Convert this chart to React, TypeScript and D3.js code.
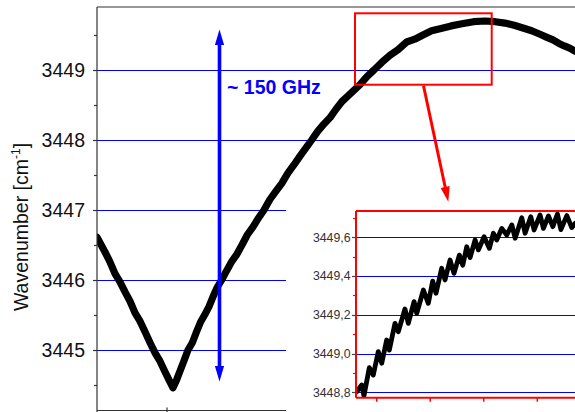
import React from 'react';
import * as d3 from 'd3';

// ---------- data ----------
const mainYTicks = [3445, 3446, 3447, 3448, 3449];
const mainYMinor = [3444.5, 3445.5, 3446.5, 3447.5, 3448.5, 3449.5];
const mainXTicks = [20, 40, 60];

const mainT = [10, 10.6, 11.14, 11.8, 12.57, 13.3, 14, 14.7, 15.43, 16.1, 16.86, 17.6, 18.29, 19.0, 19.71, 20.3, 20.86, 21.4, 21.86, 22.4, 23.0, 23.6, 24.14, 24.8, 25.43, 26.0, 26.57, 27.2, 27.81, 28.5, 29.29, 30.0, 30.71, 31.5, 32.29, 33.1, 33.86, 34.7, 35.57, 36.4, 37.29, 38.1, 39, 39.8, 40.67, 41.5, 42.43, 43.3, 44.14, 45.0, 45.86, 46.7, 47.57, 48.6, 49.57, 50.7, 51.86, 53.0, 54.24, 55.4, 56.57, 57.8, 59, 60.6, 62.14, 63.8, 65.43, 66.9, 68.29, 69.6, 70.86, 72.1, 73.29, 74.2, 75.14, 76.0, 76.86, 77.6, 78.29];
const mainV = [3446.61, 3446.5, 3446.4, 3446.27, 3446.09, 3445.97, 3445.83, 3445.7, 3445.53, 3445.42, 3445.26, 3445.1, 3444.96, 3444.84, 3444.69, 3444.57, 3444.46, 3444.58, 3444.7, 3444.84, 3445.0, 3445.1, 3445.24, 3445.4, 3445.51, 3445.62, 3445.76, 3445.9, 3446.0, 3446.13, 3446.27, 3446.37, 3446.5, 3446.65, 3446.76, 3446.89, 3447.0, 3447.15, 3447.27, 3447.38, 3447.53, 3447.64, 3447.77, 3447.88, 3448.0, 3448.12, 3448.23, 3448.32, 3448.44, 3448.55, 3448.63, 3448.71, 3448.79, 3448.91, 3449.0, 3449.11, 3449.21, 3449.29, 3449.4, 3449.44, 3449.5, 3449.56, 3449.59, 3449.63, 3449.66, 3449.69, 3449.7, 3449.69, 3449.67, 3449.64, 3449.6, 3449.56, 3449.51, 3449.47, 3449.43, 3449.38, 3449.34, 3449.31, 3449.27];

const insetT = [48.13, 48.6, 48.81, 49.31, 49.68, 50.15, 50.47, 50.93, 51.18, 51.71, 52.02, 52.64, 52.95, 53.49, 53.74, 54.36, 54.82, 55.23, 55.54, 56.07, 56.38, 56.85, 57.22, 57.72, 58.04, 58.41, 58.72, 59.19, 59.5, 60.03, 60.52, 60.9, 61.21, 61.68, 62.15, 62.62, 62.93, 63.55, 63.86, 64.39, 64.7, 65.26, 65.57, 66.04, 66.45, 66.88, 67.2, 67.76, 68.22, 68.53];
const insetV = [3448.803, 3448.838, 3448.782, 3448.927, 3448.889, 3449.01, 3448.95, 3449.07, 3449.018, 3449.156, 3449.113, 3449.23, 3449.156, 3449.268, 3449.208, 3449.328, 3449.259, 3449.374, 3449.311, 3449.44, 3449.38, 3449.483, 3449.414, 3449.508, 3449.456, 3449.551, 3449.495, 3449.586, 3449.535, 3449.603, 3449.543, 3449.621, 3449.586, 3449.646, 3449.612, 3449.664, 3449.595, 3449.701, 3449.621, 3449.706, 3449.638, 3449.715, 3449.646, 3449.71, 3449.655, 3449.72, 3449.64, 3449.712, 3449.65, 3449.672];
const insetYTicks = [3448.8, 3449.0, 3449.2, 3449.4, 3449.6];
const insetYMinor = [3448.9, 3449.1, 3449.3, 3449.5, 3449.7];
const insetXTicks = [50, 55, 60, 65];

const zoomT = [46.86, 66.39];
const zoomV = [3448.79, 3449.81];
const gapT = 27.5;
const gapV = [3444.55, 3449.58];
const gapLabel = '~ 150 GHz';
const yTitle = 'Wavenumber [cm';

// ---------- layout ----------
const W = 575, H = 412;
const PL = 97, PT = 7, PR = 575, PB = 410.5;
const IL = 356, IT = 211, IB = 397.7, IR = 600;
const FONT = '"Liberation Sans", Arial, Helvetica, sans-serif';

export default function App() {
  const x = d3.scaleLinear().domain([10, 78.29]).range([97, 575]);
  const y = d3.scaleLinear().domain([3444, 3450]).range([420, 0]);
  const xi = d3.scaleLinear().domain([50, 65]).range([376.7, 537.3]);
  const yi = d3.scaleLinear().domain([3448.8, 3449.6]).range([392.3, 237.3]);

  const mainPts = mainT.map((t, i) => [x(t), y(mainV[i])] as [number, number]);
  const insetPts = insetT.map((t, i) => [xi(t), yi(insetV[i])] as [number, number]);
  const line = d3.line();
  const fmtI = (v: number) => d3.format('.1f')(v).replace('.', ',');
  const cy = (v: number) => Math.round(v) + 0.5;

  const ax = x(gapT);
  const aTop = y(gapV[1]);
  const aBot = y(gapV[0]);

  const rx0 = x(zoomT[0]), rx1 = x(zoomT[1]);
  const ry0 = y(zoomV[1]), ry1 = y(zoomV[0]);

  // red arrow
  const raX0 = 423.5, raY0 = ry1 + 1;
  const raX1 = 448.3, raY1 = 201.7;
  const ang = Math.atan2(raY1 - raY0, raX1 - raX0);
  const hl = 15, hw = 4.6;
  const bx = raX1 - hl * Math.cos(ang), by = raY1 - hl * Math.sin(ang);
  const px = -Math.sin(ang), py = Math.cos(ang);

  return (
    <svg width={W} height={H} style={{ position: 'absolute', left: 0, top: 0, background: '#fff' }} fontFamily={FONT}>
      <defs>
        <clipPath id="mainClip"><rect x={PL} y={PT} width={PR - PL} height={PB - PT} /></clipPath>
        <clipPath id="insetClip"><rect x={IL} y={IT - 3} width={IR - IL} height={IB - IT + 3} /></clipPath>
      </defs>
      <rect x={0} y={0} width={W} height={H} fill="#fff" />

      {/* main gridlines */}
      {mainYTicks.map(v => (
        <line key={'g' + v} x1={PL} x2={PR} y1={cy(y(v))} y2={cy(y(v))} stroke="#0000ff" strokeWidth={1} shapeRendering="crispEdges" />
      ))}

      {/* main curve */}
      <path d={line(mainPts) || ''} fill="none" stroke="#000" strokeWidth={7.2} strokeLinejoin="round" strokeLinecap="round" clipPath="url(#mainClip)" />

      {/* main axes */}
      <line x1={PL} x2={PL} y1={PT} y2={H} stroke="#333" strokeWidth={1.2} />
      <line x1={PL} x2={PR} y1={PT} y2={PT} stroke="#333" strokeWidth={1.2} />
      <line x1={PL} x2={PR} y1={PB} y2={PB} stroke="#333" strokeWidth={1.2} />
      {mainYTicks.map(v => (
        <g key={'t' + v}>
          <line x1={PL - 4} x2={PL} y1={cy(y(v))} y2={cy(y(v))} stroke="#333" strokeWidth={1.2} />
          <text x={85} y={y(v)} dy="0.36em" textAnchor="end" fontSize={19.5} fill="#111">{v}</text>
        </g>
      ))}
      {mainYMinor.map(v => (
        <line key={'m' + v} x1={PL - 3} x2={PL} y1={cy(y(v))} y2={cy(y(v))} stroke="#333" strokeWidth={1.2} />
      ))}
      {mainXTicks.map(t => (
        <line key={'xt' + t} x1={x(t)} x2={x(t)} y1={PB - 3} y2={PB + 3} stroke="#333" strokeWidth={1.2} />
      ))}
      <text transform="translate(27.5,227) rotate(-90)" textAnchor="middle" fontSize={19.5} fill="#111">
        {yTitle}
        <tspan fontSize={12} dy={-8}>-1</tspan>
        <tspan dy={8}>]</tspan>
      </text>

      {/* zoom rectangle */}
      <rect x={rx0} y={ry0} width={rx1 - rx0} height={ry1 - ry0} fill="none" stroke="#ff0000" strokeWidth={2} />

      {/* blue double arrow */}
      <line x1={ax} x2={ax} y1={aTop + 12} y2={aBot - 12} stroke="#0000ff" strokeWidth={3.6} />
      <path d={`M${ax},${aTop} L${ax - 4.6},${aTop + 15.5} L${ax + 4.6},${aTop + 15.5} Z`} fill="#0000ff" />
      <path d={`M${ax},${aBot} L${ax - 4.6},${aBot - 15.5} L${ax + 4.6},${aBot - 15.5} Z`} fill="#0000ff" />
      <text x={227} y={93.5} fontSize={19.5} fontWeight="bold" fill="#0000ff">{gapLabel}</text>

      {/* inset */}
      <rect x={286} y={203} width={W - 286} height={H - 203} fill="#fff" />
      {insetYTicks.map(v => (
        <line key={'ig' + v} x1={IL} x2={IR} y1={cy(yi(v))} y2={cy(yi(v))} stroke="#0000ff" strokeWidth={1} shapeRendering="crispEdges" />
      ))}
      <path d={line(insetPts) || ''} fill="none" stroke="#000" strokeWidth={4.8} strokeLinejoin="round" strokeLinecap="round" clipPath="url(#insetClip)" />
      <line x1={IL} x2={IL} y1={IT} y2={IB} stroke="#ff0000" strokeWidth={2} />
      <line x1={IL} x2={IR} y1={IT} y2={IT} stroke="#ff0000" strokeWidth={2} />
      <line x1={IL} x2={IR} y1={IB} y2={IB} stroke="#ff0000" strokeWidth={2} />
      {insetYTicks.map(v => (
        <g key={'it' + v}>
          <line x1={IL - 4} x2={IL} y1={cy(yi(v))} y2={cy(yi(v))} stroke="#444" strokeWidth={1.2} />
          <text x={350.5} y={yi(v)} dy="0.36em" textAnchor="end" fontSize={12.3} fill="#333">{fmtI(v)}</text>
        </g>
      ))}
      {insetYMinor.map(v => (
        <line key={'im' + v} x1={IL - 3} x2={IL} y1={cy(yi(v))} y2={cy(yi(v))} stroke="#ff0000" strokeWidth={1.2} />
      ))}
      {insetXTicks.map(t => (
        <line key={'ix' + t} x1={xi(t)} x2={xi(t)} y1={IB} y2={IB + 4} stroke="#ff0000" strokeWidth={1.5} />
      ))}

      {/* red arrow */}
      <line x1={raX0} y1={raY0} x2={bx + 2 * Math.cos(ang)} y2={by + 2 * Math.sin(ang)} stroke="#ff0000" strokeWidth={3} />
      <path d={`M${raX1},${raY1} L${bx + px * hw},${by + py * hw} L${bx - px * hw},${by - py * hw} Z`} fill="#ff0000" />
    </svg>
  );
}
